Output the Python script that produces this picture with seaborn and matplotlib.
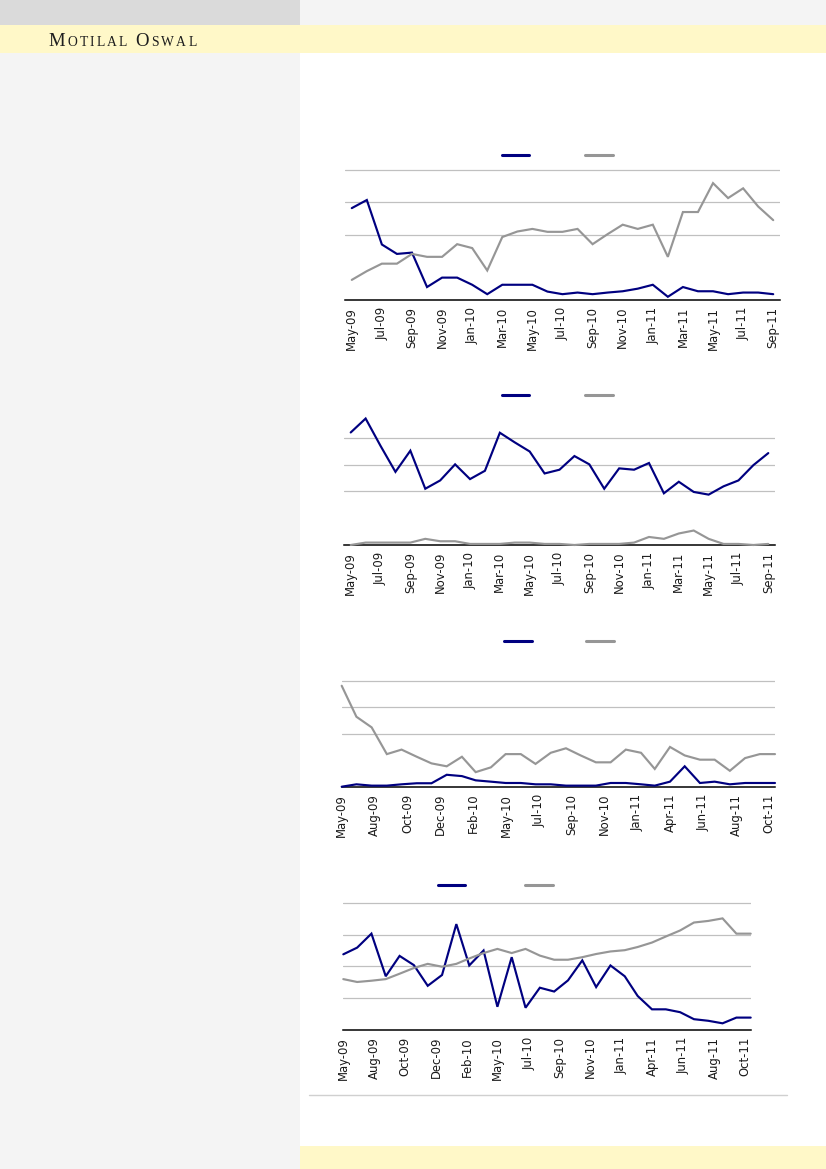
"""
Four-panel monthly line chart page (navy vs grey series), broker report style.
"""

import matplotlib
matplotlib.use('Agg')  # Non-interactive backend
import matplotlib.pyplot as plt
from matplotlib.patches import Rectangle
from matplotlib.lines import Line2D
import pandas as pd
import seaborn as sns

sns.set_style('white')
plt.rcParams['font.family'] = ['DejaVu Sans']

W, H = 826, 1169
NAVY = '#000080'
GREY = '#969696'
GRID = '#c0c0c0'
YELLOW = '#fff8c8'

# --- data -----------------------------------------------------------------
months_a = ['May-09', 'Jun-09', 'Jul-09', 'Aug-09', 'Sep-09', 'Oct-09', 'Nov-09',
            'Dec-09', 'Jan-10', 'Feb-10', 'Mar-10', 'Apr-10', 'May-10', 'Jun-10',
            'Jul-10', 'Aug-10', 'Sep-10', 'Oct-10', 'Nov-10', 'Dec-10', 'Jan-11',
            'Feb-11', 'Mar-11', 'Apr-11', 'May-11', 'Jun-11', 'Jul-11', 'Aug-11',
            'Sep-11']
months_b = months_a + ['Oct-11']

tick_labels_b = ['May-09', 'Aug-09', 'Oct-09', 'Dec-09', 'Feb-10', 'May-10', 'Jul-10',
                 'Sep-10', 'Nov-10', 'Jan-11', 'Apr-11', 'Jun-11', 'Aug-11', 'Oct-11']

c1_navy = [2.82, 3.07, 1.70, 1.41, 1.45, 0.39, 0.68, 0.68, 0.46, 0.17, 0.46, 0.46, 0.46,
           0.25, 0.17, 0.22, 0.17, 0.22, 0.26, 0.34, 0.46, 0.09, 0.39, 0.26, 0.26, 0.17,
           0.22, 0.22, 0.17]
c1_grey = [0.61, 0.88, 1.11, 1.11, 1.41, 1.32, 1.32, 1.71, 1.59, 0.90, 1.93, 2.10, 2.18,
           2.09, 2.09, 2.18, 1.71, 2.02, 2.31, 2.18, 2.31, 1.32, 2.70, 2.70, 3.59, 3.13,
           3.43, 2.87, 2.45]

c2_navy = [4.20, 4.72, 3.70, 2.73, 3.52, 2.10, 2.41, 3.01, 2.46, 2.77, 4.19, 3.83, 3.49,
           2.67, 2.81, 3.32, 3.01, 2.10, 2.86, 2.81, 3.06, 1.93, 2.36, 1.98, 1.88, 2.19,
           2.41, 2.98, 3.43]
c2_grey = [0.00, 0.09, 0.09, 0.09, 0.09, 0.23, 0.14, 0.14, 0.04, 0.04, 0.04, 0.09, 0.09,
           0.04, 0.04, 0.00, 0.04, 0.04, 0.04, 0.09, 0.30, 0.23, 0.43, 0.54, 0.23, 0.04,
           0.04, 0.00, 0.04]

c3_navy = [0.00, 0.09, 0.04, 0.04, 0.09, 0.13, 0.13, 0.45, 0.40, 0.24, 0.19, 0.14, 0.14,
           0.09, 0.09, 0.04, 0.04, 0.04, 0.14, 0.14, 0.09, 0.04, 0.19, 0.77, 0.14, 0.19,
           0.09, 0.14, 0.14, 0.14]
c3_grey = [3.81, 2.64, 2.24, 1.23, 1.40, 1.13, 0.88, 0.77, 1.13, 0.55, 0.73, 1.23, 1.23,
           0.86, 1.28, 1.45, 1.18, 0.92, 0.92, 1.40, 1.28, 0.67, 1.50, 1.18, 1.02, 1.02,
           0.60, 1.08, 1.23, 1.23]

c4_navy = [2.38, 2.59, 3.03, 1.69, 2.33, 2.04, 1.39, 1.73, 3.33, 2.03, 2.50, 0.73, 2.29,
           0.70, 1.33, 1.21, 1.56, 2.19, 1.35, 2.03, 1.69, 1.07, 0.65, 0.65, 0.56, 0.34,
           0.29, 0.21, 0.39, 0.39]
c4_grey = [1.60, 1.51, 1.55, 1.60, 1.77, 1.95, 2.08, 1.99, 2.08, 2.25, 2.42, 2.55, 2.42,
           2.55, 2.34, 2.21, 2.21, 2.29, 2.39, 2.47, 2.51, 2.61, 2.75, 2.94, 3.13, 3.38,
           3.43, 3.51, 3.03, 3.03]


def px_axes(fig, left, top, right, bottom):
    """Axes placed by pixel edges (y measured from the top of the page)."""
    return fig.add_axes([left / W, 1 - bottom / H, (right - left) / W, (bottom - top) / H])


def px_rect(fig, x0, y0, x1, y1, color):
    fig.add_artist(Rectangle((x0 / W, 1 - y1 / H), (x1 - x0) / W, (y1 - y0) / H,
                             transform=fig.transFigure, facecolor=color,
                             edgecolor='none', zorder=0))


def draw_panel(ax, x, navy, grey, grid_vals, ymax):
    df = pd.DataFrame({
        'x': list(x) * 2,
        'value': navy + grey,
        'series': ['navy'] * len(navy) + ['grey'] * len(grey),
    })
    sns.lineplot(data=df, x='x', y='value', hue='series', hue_order=['navy', 'grey'],
                 palette={'navy': NAVY, 'grey': GREY}, linewidth=1.55, sort=False,
                 legend=False, ax=ax)
    for line in ax.lines:
        line.set_clip_on(False)
        line.set_solid_joinstyle('miter')
    ax.set_ylim(0, ymax * 1.004)
    ax.set_yticks(grid_vals)
    ax.yaxis.grid(True, color=GRID, linewidth=0.9)
    ax.set_axisbelow(True)
    ax.set_facecolor('none')
    for side in ('left', 'top', 'right'):
        ax.spines[side].set_visible(False)
    ax.spines['bottom'].set_color('black')
    ax.spines['bottom'].set_linewidth(1.1)
    ax.spines['bottom'].set_zorder(0.5)
    ax.tick_params(axis='y', left=False, labelleft=False)
    ax.tick_params(axis='x', length=0, pad=5, labelsize=8.4, labelrotation=90,
                   colors='#1a1a1a')
    ax.set_xlabel('')
    ax.set_ylabel('')


def add_legend(fig, left, y, colspace):
    handles = [Line2D([], [], color=NAVY, lw=2.2), Line2D([], [], color=GREY, lw=2.2)]
    fig.legend(handles, ['', ''], loc='center left', bbox_to_anchor=(left / W, 1 - y / H),
               ncol=2, frameon=False, fontsize=8, handlelength=2.5, handletextpad=0.4,
               columnspacing=colspace, borderpad=0, borderaxespad=0)


fig = plt.figure(figsize=(W / 100, H / 100), dpi=100)

# page furniture
px_rect(fig, 0, 0, 300, 25, '#dadada')
px_rect(fig, 300, 0, W, 25, '#f4f4f4')
px_rect(fig, 0, 25, W, 53, YELLOW)
px_rect(fig, 0, 53, 300, H, '#f4f4f4')
px_rect(fig, 300, 1146, W, H, YELLOW)
fig.add_artist(Line2D([309 / W, 787 / W], [1 - 1094.5 / H, 1 - 1094.5 / H],
                      transform=fig.transFigure, color='#d0d0d0', lw=1))

# small-caps masthead, letter by letter
renderer = fig.canvas.get_renderer()
cursor = 48.5
for i, ch in enumerate('MOTILAL OSWAL'):
    if ch == ' ':
        cursor += 6
        continue
    size = 13.5 if i in (0, 8) else 9.8
    t = fig.text(cursor / W, 1 - 46 / H, ch, fontsize=size, family='Liberation Serif',
                 va='baseline', ha='left', color='#1e1e1e')
    cursor += t.get_window_extent(renderer).width + 2.2

# chart 1
idx_a = list(range(len(months_a)))
ax1 = px_axes(fig, 345, 169.3, 780, 299.7)
draw_panel(ax1, idx_a, c1_navy, c1_grey, [2, 3, 4], 4)
ax1.set_xlim(-0.45, len(months_a) - 0.55)
ax1.set_xticks(idx_a[::2])
ax1.set_xticklabels(months_a[::2])
add_legend(fig, 501.7, 156.3, 4.64)

# chart 2
ax2 = px_axes(fig, 344, 410.5, 775, 545)
draw_panel(ax2, idx_a, c2_navy, c2_grey, [2, 3, 4], 5)
ax2.set_xlim(-0.45, len(months_a) - 0.55)
ax2.set_xticks(idx_a[::2])
ax2.set_xticklabels(months_a[::2])
add_legend(fig, 501.7, 396.3, 4.64)

# charts 3 and 4 sit on a date axis with a 67-day major unit
dates_b = pd.to_datetime(months_b, format='%b-%y') + pd.offsets.MonthEnd(0)
ticks_b = [dates_b[0] + pd.Timedelta(days=67 * k) for k in range(len(tick_labels_b))]

ax3 = px_axes(fig, 341.7, 680.3, 775, 786.7)
draw_panel(ax3, dates_b, c3_navy, c3_grey, [2, 3, 4], 4)
ax3.set_xlim(dates_b[0], dates_b[-1])
ax3.set_xticks(ticks_b)
ax3.set_xticklabels(tick_labels_b)
add_legend(fig, 504, 642, 4.46)

ax4 = px_axes(fig, 343.3, 902.3, 750.7, 1030)
draw_panel(ax4, dates_b, c4_navy, c4_grey, [1, 2, 3, 4], 4)
ax4.set_xlim(dates_b[0], dates_b[-1])
ax4.set_xticks(ticks_b)
ax4.set_xticklabels(tick_labels_b)
add_legend(fig, 437.7, 886.3, 5.0)

fig.savefig('out.png', dpi=100)
plt.close(fig)
